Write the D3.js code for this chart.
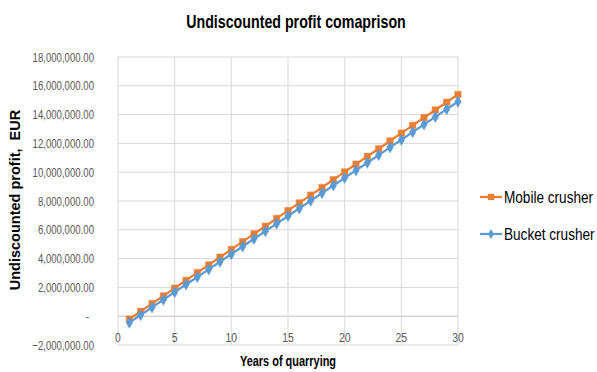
<!DOCTYPE html>
<html>
<head>
<meta charset="utf-8">
<script src="https://cdn.jsdelivr.net/npm/d3@7"></script>
<style>
  body { margin: 0; background: #fff; }
  svg { display: block; }
</style>
</head>
<body>
<svg id="chart" width="597" height="372"></svg>
<script>
// Years of quarrying
const years = [1,2,3,4,5,6,7,8,9,10,11,12,13,14,15,16,17,18,19,20,21,22,23,24,25,26,27,28,29,30];

// Cumulative undiscounted profit, EUR
const mobileCrusher = [
  -200000, 340000, 870000, 1410000, 1950000, 2490000, 3030000, 3560000, 4100000, 4640000,
  5180000, 5720000, 6250000, 6790000, 7330000, 7870000, 8410000, 8940000, 9480000, 10020000,
  10560000, 11100000, 11630000, 12170000, 12710000, 13250000, 13790000, 14320000, 14860000, 15400000
];
const bucketCrusher = [
  -450000, 80000, 610000, 1140000, 1670000, 2200000, 2720000, 3250000, 3780000, 4310000,
  4840000, 5370000, 5900000, 6430000, 6960000, 7490000, 8020000, 8550000, 9080000, 9610000,
  10130000, 10660000, 11190000, 11720000, 12250000, 12780000, 13310000, 13840000, 14370000, 14900000
];

const seriesNames = ["Mobile crusher", "Bucket crusher"];
const yTicks = [-2000000, 0, 2000000, 4000000, 6000000, 8000000, 10000000, 12000000, 14000000, 16000000, 18000000];
const xTicks = [0, 5, 10, 15, 20, 25, 30];

const colors = ["#ED7D31", "#5B9BD5"];
const sans = "'Liberation Sans', Arial, sans-serif";

const svg = d3.select("#chart");
const plot = { left: 118, right: 458, top: 57, bottom: 345 };

const x = d3.scaleLinear().domain([0, 30]).range([plot.left, plot.right]);
const y = d3.scaleLinear().domain([-2000000, 18000000]).range([plot.bottom, plot.top]);

// Narrow (condensed) text: placed with a translate and squeezed horizontally
function narrowText(parent, px, py, str, size, squeeze, opts = {}) {
  return parent.append("text")
    .attr("transform", `translate(${px},${py}) scale(${squeeze},1)`)
    .attr("text-anchor", opts.anchor || "start")
    .style("font-family", sans)
    .style("font-size", size + "px")
    .style("font-weight", opts.bold ? "bold" : "normal")
    .attr("fill", opts.fill || "#000")
    .text(str);
}

// Title
narrowText(svg, 296, 28, "Undiscounted profit comaprison", 18, 0.79, { anchor: "middle", bold: true });

// Horizontal gridlines
svg.append("g").selectAll("line").data(yTicks).join("line")
  .attr("x1", plot.left).attr("x2", plot.right)
  .attr("y1", d => y(d)).attr("y2", d => y(d))
  .attr("stroke", d => d === 0 ? "#bfbfbf" : "#d9d9d9").attr("stroke-width", 1);

// Vertical gridlines
svg.append("g").selectAll("line").data(xTicks).join("line")
  .attr("x1", d => x(d)).attr("x2", d => x(d))
  .attr("y1", plot.top).attr("y2", plot.bottom)
  .attr("stroke", "#d9d9d9").attr("stroke-width", 1);

// Y axis labels
const fmtY = d => d === 0 ? "-" : d3.format(",.2f")(d);
const gy = svg.append("g");
yTicks.forEach(t => {
  narrowText(gy, t === 0 ? 89 : 94, y(t) + 4.5, fmtY(t), 13, 0.74, { anchor: "end", fill: "#595959" });
});

// X axis labels (next to the zero axis)
const gx = svg.append("g");
xTicks.forEach(t => {
  narrowText(gx, x(t), y(0) + 26, String(t), 13, 0.8, { anchor: "middle", fill: "#595959" });
});

// Axis titles
svg.append("text")
  .attr("transform", `translate(20, ${(plot.top + plot.bottom) / 2 - 1}) rotate(-90)`)
  .attr("text-anchor", "middle")
  .style("font-family", sans).style("font-weight", "bold").style("font-size", "14.5px")
  .attr("fill", "#000")
  .attr("xml:space", "preserve")
  .text("Undiscounted profit,  EUR");

narrowText(svg, 288, 366, "Years of quarrying", 15, 0.73, { anchor: "middle", bold: true });

// Series
const datasets = [mobileCrusher, bucketCrusher];
const line = d3.line().x((d, i) => x(years[i])).y(d => y(d));

datasets.forEach((vals, k) => {
  const g = svg.append("g");
  g.append("path").datum(vals)
    .attr("d", line)
    .attr("fill", "none").attr("stroke", colors[k]).attr("stroke-width", 2.25);
  const sym = k === 0 ? d3.symbolSquare : d3.symbolDiamond;
  const size = k === 0 ? 40 : 36;
  g.selectAll("path.m").data(vals).join("path")
    .attr("class", "m")
    .attr("transform", (d, i) => `translate(${x(years[i])},${y(d)})`)
    .attr("d", d3.symbol().type(sym).size(size))
    .attr("fill", colors[k]).attr("stroke", colors[k]).attr("stroke-width", 0.5);
});

// Legend
const legendY = [197, 234];
seriesNames.forEach((name, k) => {
  const g = svg.append("g").attr("transform", `translate(480, ${legendY[k]})`);
  g.append("line").attr("x1", 0).attr("x2", 22).attr("y1", 0).attr("y2", 0)
    .attr("stroke", colors[k]).attr("stroke-width", 2.25);
  g.append("path")
    .attr("transform", "translate(11,0)")
    .attr("d", d3.symbol().type(k === 0 ? d3.symbolSquare : d3.symbolDiamond).size(k === 0 ? 40 : 30))
    .attr("fill", colors[k]);
  narrowText(g, 24, 5.5, name, 16, 0.85);
});
</script>
</body>
</html>
